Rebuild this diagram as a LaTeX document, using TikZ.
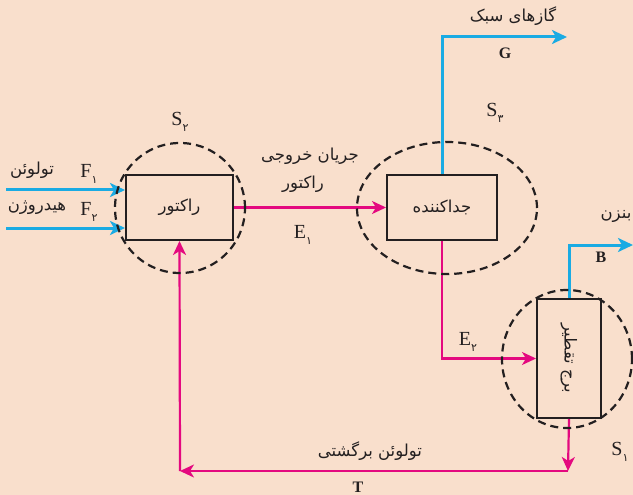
\documentclass[tikz,border=0pt]{standalone}
\usepackage{fontspec}
\setmainfont{Liberation Serif}
\newfontfamily\fafont[Script=Arabic]{DejaVu Sans}
\TeXXeTstate=1
\usetikzlibrary{arrows.meta,shapes.geometric,positioning}
\definecolor{bg}{HTML}{F9DFCC}
\definecolor{feed}{HTML}{1AABE3}
\definecolor{flow}{HTML}{E4097F}
\definecolor{ink}{HTML}{231F20}
\newcommand{\fa}[1]{{\fafont\beginR #1\endR}}
\newcommand{\sublab}[2]{#1\raisebox{-0.6ex}{\fafont\fontsize{11}{12}\selectfont #2}}
\tikzset{
  unit/.style={draw=ink, line width=2pt, inner sep=0pt},
  zone/.style={ellipse, draw=ink, line width=2.2pt, dash pattern=on 8pt off 5pt, inner sep=0pt},
  feedline/.style={draw=feed, line width=3pt, -{Stealth[length=15pt,width=14pt,inset=4pt]}},
  flowline/.style={draw=flow, line width=2.2pt, -{Stealth[length=14pt,width=13pt,inset=4pt]}},
  falab/.style={text=ink, font=\fafont\fontsize{16.5}{20}\selectfont},
  lab/.style={text=ink, font=\fontsize{20}{23}\selectfont},
  boldlab/.style={text=ink, font=\bfseries\fontsize{16}{19}\selectfont},
}
\begin{document}
\begin{tikzpicture}[x=1pt, y=-1pt]
  \useasboundingbox[fill=bg] (0,0) rectangle (633,495);

  % units
  \node[unit, minimum width=107pt, minimum height=65pt, falab] (reactor) at (179.5,207.5) {\fa{راکتور}};
  \node[unit, minimum width=110pt, minimum height=65pt, falab] (separator) at (442,207.5) {\fa{جداکننده}};
  \node[unit, minimum width=64pt, minimum height=119pt] (column) at (569,358.5) {};
  \node[falab, rotate=-90] (columntext) at (column.center) {\fa{برج تقطیر}};

  % free ends
  \coordinate (f1) at (6,190);
  \coordinate (f2) at (6,228);
  \coordinate (gend) at (567,37);
  \coordinate (bend) at (633,245);
  \coordinate (tright) at (568,471);
  \coordinate (tleft) at (180,471);

  % streams
  \draw[feedline] (f1) -- (reactor.west |- f1);
  \draw[feedline] (f2) -- (reactor.west |- f2);
  \draw[flowline] (reactor.east) -- (separator.west);
  \draw[feedline] (separator.north) |- (gend);
  \draw[flowline] (separator.south) |- (column.west);
  \draw[feedline] (column.north) |- (bend);
  \draw[flowline] (column.south) -- (tright);
  \draw[flowline] (tright) -- (tleft);
  \draw[flowline] (tleft) -- (reactor.south);

  % system boundaries
  \node[zone, minimum width=130pt, minimum height=130pt] (s2zone) at (180,208) {};
  \node[zone, minimum width=180pt, minimum height=132pt] (s3zone) at (447,208) {};
  \node[zone, minimum width=130pt, minimum height=138pt] (s1zone) at (567,359) {};

  % labels
  \node[falab] (toluene) at (32,170) {\fa{تولوئن}};
  \node[falab] (hydrogen) at (37,208) {\fa{هیدروژن}};
  \node[lab] (f1lab) at (89,174) {\sublab{F}{۱}};
  \node[lab] (f2lab) at (89,212) {\sublab{F}{۲}};
  \node[lab] (s2lab) at (180,122) {\sublab{S}{۲}};
  \node[falab] (outlab) at (310,156) {\fa{جریان خروجی}};
  \node[falab] (outlab2) at (303,184) {\fa{راکتور}};
  \node[lab] (e1lab) at (303,235) {\sublab{E}{۱}};
  \node[falab] (gaslab) at (513,16) {\fa{گازهای سبک}};
  \node[boldlab] (glab) at (505,53) {G};
  \node[lab] (s3lab) at (495,113) {\sublab{S}{۳}};
  \node[falab] (benzlab) at (616,216) {\fa{بنزن}};
  \node[boldlab] (blab) at (601,257) {B};
  \node[lab] (e2lab) at (468,342) {\sublab{E}{۲}};
  \node[lab] (s1lab) at (620,452) {\sublab{S}{۱}};
  \node[falab] (backlab) at (370,451) {\fa{تولوئن برگشتی}};
  \node[boldlab] (tlab) at (358,487) {T};
\end{tikzpicture}
\end{document}
